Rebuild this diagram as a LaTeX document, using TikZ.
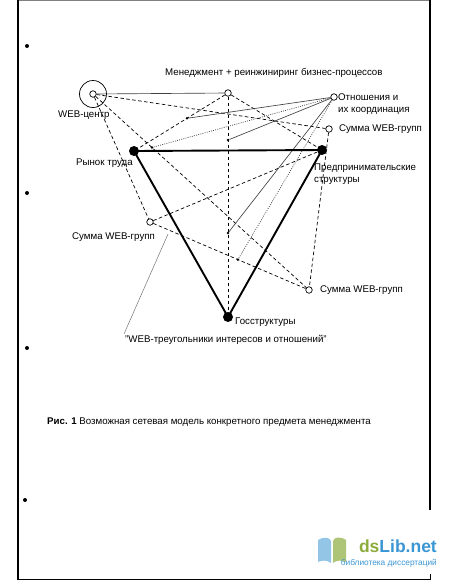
\documentclass[tikz,border=0pt]{standalone}
\usepackage{fontspec}
\setmainfont{Liberation Sans}
\usetikzlibrary{calc}
\definecolor{dsgreen}{RGB}{140,172,62}
\definecolor{dsblue}{RGB}{58,150,212}
\begin{document}
\begin{tikzpicture}[x=1pt,y=-1pt,
  lbl/.style={inner sep=0pt,font=\fontsize{9.7}{11.5}\selectfont,align=left},
  oc/.style={circle,draw,fill=white,inner sep=0pt,minimum size=6.5pt,line width=0.7pt},
  bd/.style={circle,fill=black,inner sep=0pt,minimum size=10pt},
  pt/.style={circle,fill=black,inner sep=0pt,minimum size=2.8pt},
  dl/.style={line width=0.7pt,dash pattern=on 3.5pt off 2.5pt},
  dt/.style={line width=0.65pt,dash pattern=on 0.9pt off 1.3pt,black!80},
  sl/.style={line width=0.65pt,black!75},
  tk/.style={line width=1.9pt},
  frame/.style={line width=1.6pt}]
\useasboundingbox (0,0) rectangle (450,582);
% page frame
\draw[black!50,line width=0.6pt] (18,0.5) -- (430,0.5);
\draw[frame] (18,0) -- (18,580);
\draw[frame] (430,0) -- (430,510);
\draw[line width=1pt] (18,579) -- (430,579) -- (430,574);
\foreach \yy/\xx in {46/27,193/27,348/27,500/25} \fill (\xx,\yy) circle (2pt);
% main nodes
\node[oc] (webc) at (93,94) {};
\node[oc] (mgmt) at (228,93) {};
\node[oc] (rel) at (334,97) {};
\node[oc] (sumUR) at (329,129) {};
\node[bd] (labor) at (134,151) {};
\node[bd] (ent) at (322,150) {};
\node[oc] (sumL) at (150,222) {};
\node[oc] (sumLR) at (309,290) {};
\node[bd] (gov) at (228,317) {};
\draw[line width=0.7pt] (webc.center) circle (13.5pt);
% intermediate points
\node[pt] (pA) at ($(mgmt)!0.436!(labor)$) {};
\node[pt] (pB) at ($(mgmt)!0.21!(gov)$) {};
\node[pt] (pC) at ($(mgmt)!0.625!(gov)$) {};
\node[pt] (pD) at ($(sumL)!0.553!(sumLR)$) {};
\node[pt] (pE) at ($(webc)!0.273!(sumLR)$) {};
\coordinate (pF) at (168,234);
\coordinate (tl) at (124,334);
% dashed
\draw[dl] (webc) -- (sumUR);
\draw[dl] (webc) -- (sumLR);
\draw[dl] (webc) -- (sumL);
\draw[dl] (mgmt) -- (labor);
\draw[dl] (mgmt) -- (ent);
\draw[dl] (mgmt) -- (gov);
\draw[dl] (sumL) -- (ent);
\draw[dl] (sumL) -- (sumLR);
\draw[dl] (sumUR) -- (sumLR);
% solid thin
\draw[sl] (webc) -- (mgmt);
\draw[sl] (rel) -- (pA);
\draw[sl] (rel) -- (pB);
\draw[sl] (rel) -- (pC);
\draw[line width=0.5pt,black!55] (pF) -- (tl);
% dotted
\draw[dt] (rel) -- (pE);
\draw[dt] (rel) -- (pD);
% thick triangle
\draw[tk] (labor.center) -- (ent.center);
\draw[tk] (labor.center) -- (gov.center);
\draw[tk] (ent.center) -- (gov.center);
% labels
\node[lbl,anchor=west] (tmgmt) at (165,73) {Менеджмент + реинжиниринг бизнес-процессов};
\node[lbl,anchor=west] (twebc) at (58,115) {WEB-центр};
\node[lbl,anchor=west] (trel) at (338,104) {Отношения и\\их координация};
\node[lbl,anchor=west] (tsumUR) at (339,129) {Сумма WEB-групп};
\node[lbl,anchor=west] (tlabor) at (76,163) {Рынок труда};
\node[lbl,anchor=west] (tent) at (314,174) {Предпринимательские\\структуры};
\node[lbl,anchor=west] (tsumL) at (72,237) {Сумма WEB-групп};
\node[lbl,anchor=west] (tsumLR) at (320,290) {Сумма WEB-групп};
\node[lbl,anchor=west] (tgov) at (235,322) {Госструктуры};
\node[lbl,anchor=west] (tri) at (125,340) {"WEB-треугольники интересов и отношений"};
\node[lbl,anchor=west] (cap) at (47,422) {\textbf{Рис. 1} Возможная сетевая модель конкретного предмета менеджмента};
% logo
\fill[dsblue!55] (318,540) .. controls (325,536) and (330,538) .. (331,541) -- (331,563) .. controls (327,560) and (322,560) .. (318,562) -- cycle;
\fill[dsgreen!70] (333,541) .. controls (334,537) and (340,536) .. (346,540) -- (346,562) .. controls (342,560) and (336,560) .. (333,563) -- cycle;
\node[inner sep=0pt,anchor=east,font=\bfseries\fontsize{17.5}{19}\selectfont] (logo) at (437,546) {\textcolor{dsgreen}{ds}\textcolor{dsblue}{Lib.net}};
\node[inner sep=0pt,anchor=east,font=\fontsize{8.3}{10}\selectfont,text=dsblue] (logosub) at (437,563) {библиотека диссертаций};
\end{tikzpicture}
\end{document}
